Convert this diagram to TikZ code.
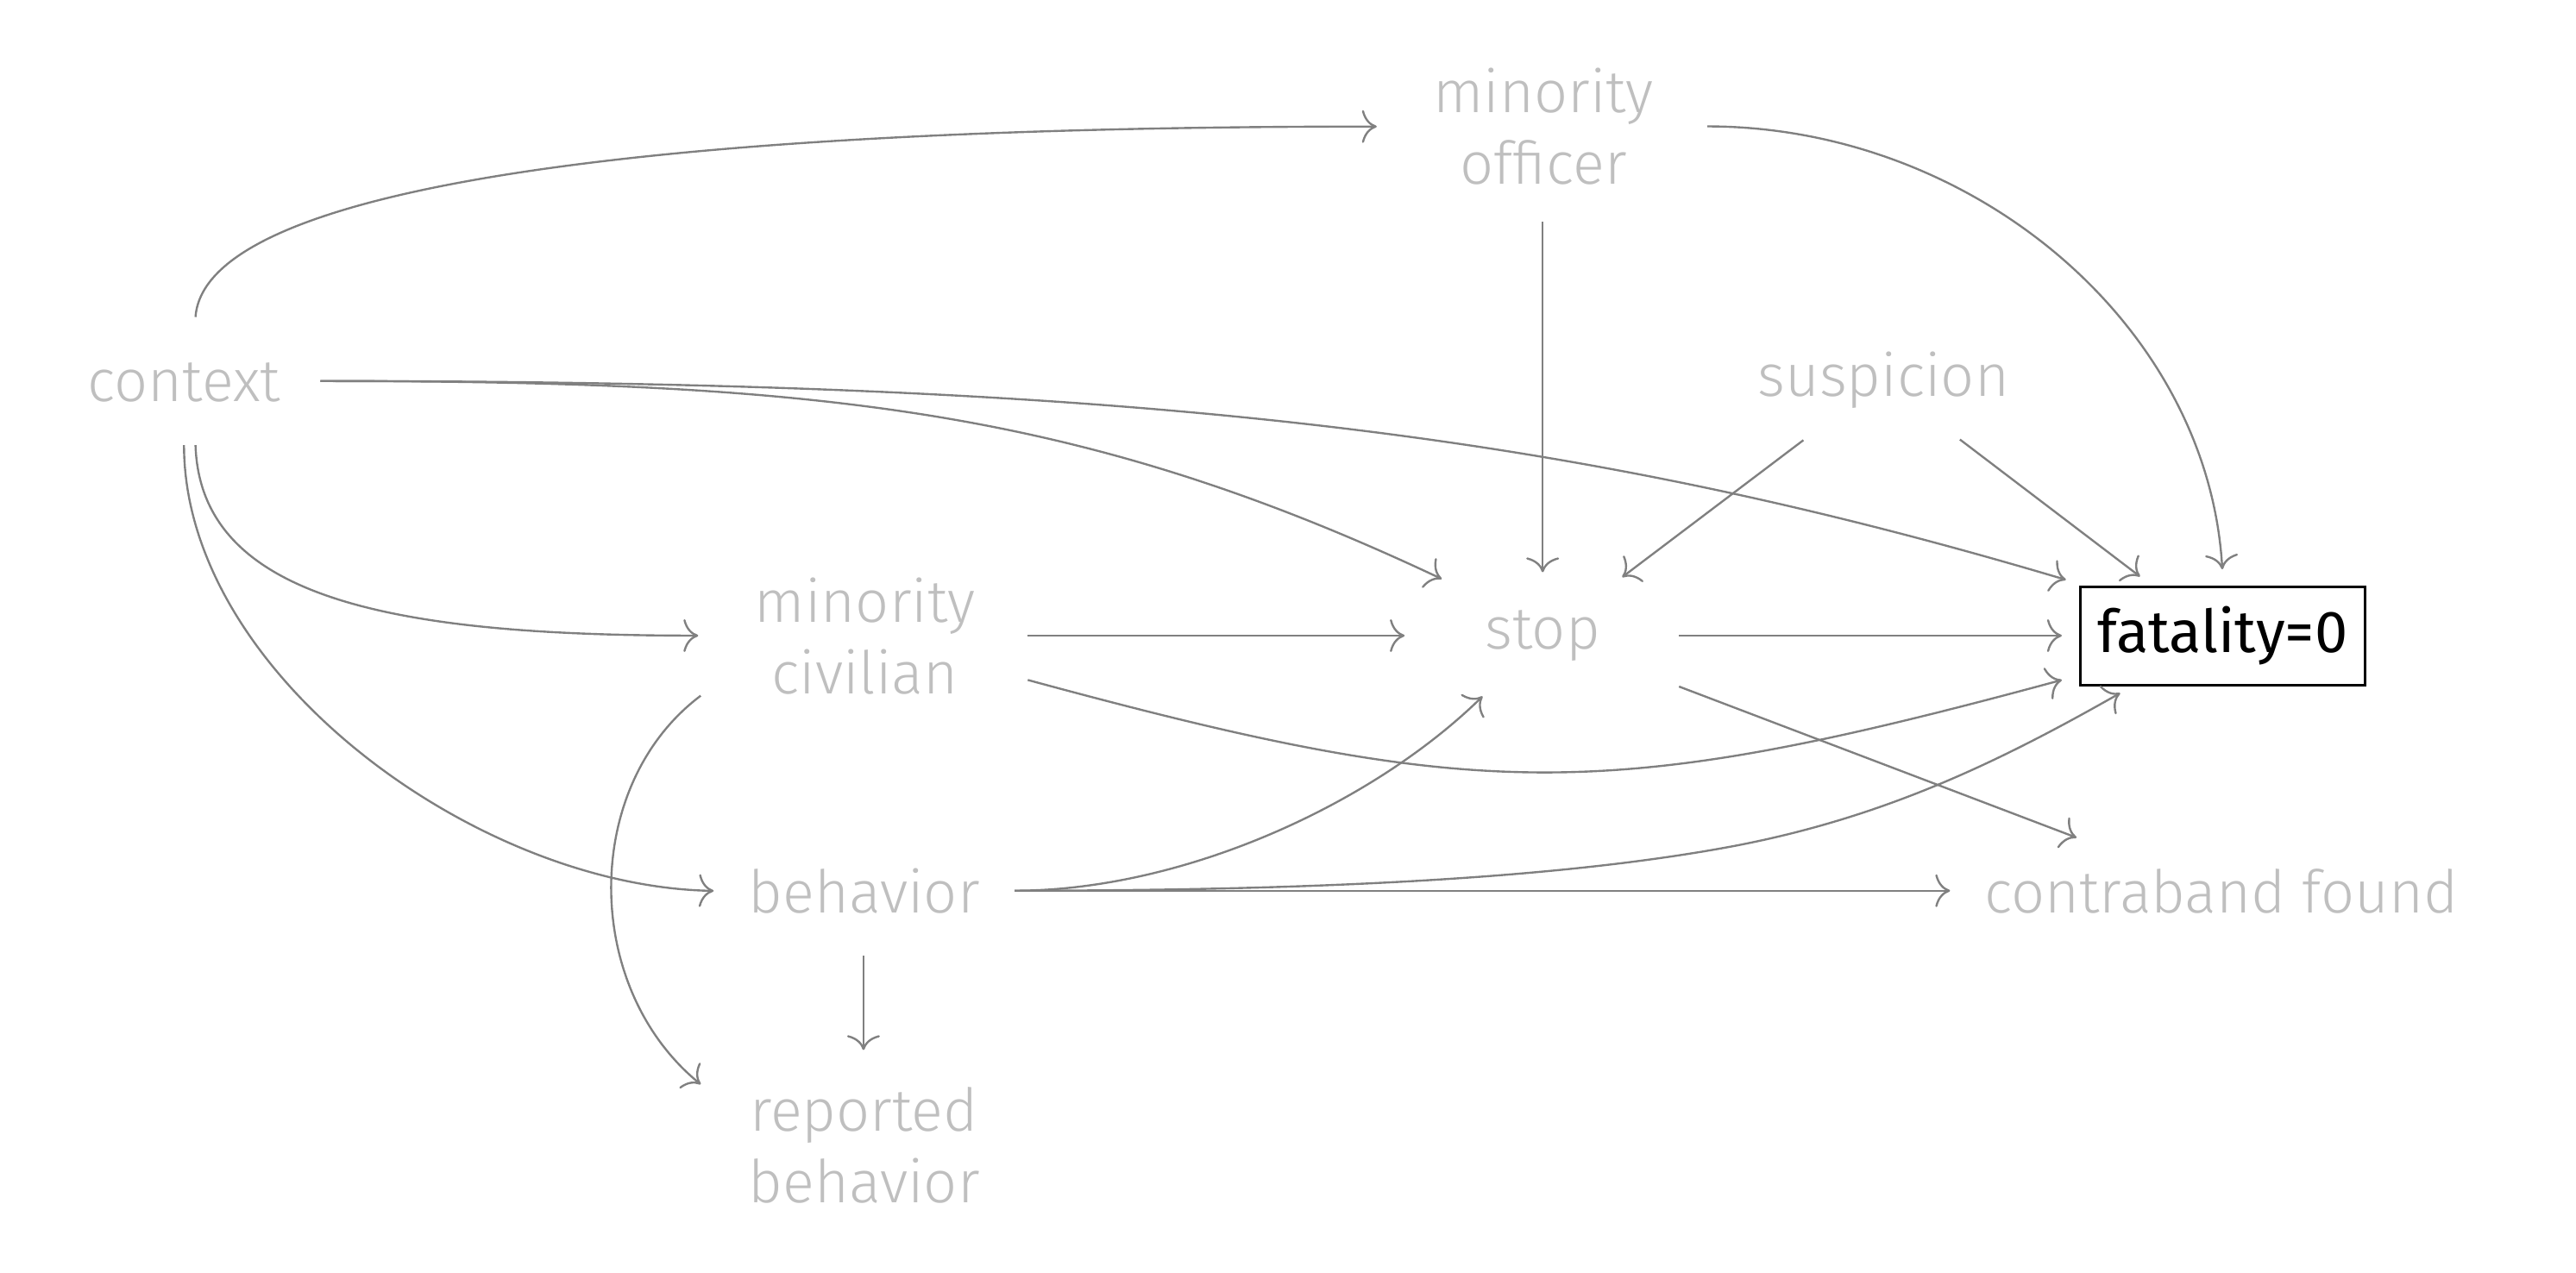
\documentclass[tikz,border=0pt]{standalone}
\usepackage{fontspec}
\IfFontExistsTF{Fira Sans Light}{\setmainfont{Fira Sans Light}}{\setmainfont{Fira Sans}}
\newfontfamily\regfont{Fira Sans}
\usetikzlibrary{arrows.meta,calc}
\definecolor{labelgray}{HTML}{BFBFBF}
\definecolor{edgegray}{HTML}{808080}
\begin{document}
\begin{tikzpicture}[x=1pt,y=-1pt,
  var/.style={text=labelgray, inner sep=0pt, align=center, font=\fontsize{36}{43.5}\selectfont},
  outcome/.style={draw=black, line width=1.6pt, text=black, minimum width=173pt, minimum height=60pt, inner sep=0pt, font=\regfont\fontsize{36}{43.5}\selectfont},
  edge/.style={draw=edgegray, line width=1.25pt, -{To[length=9pt,width=20pt]}}]
\useasboundingbox (0,0) rectangle (1568,775);
% nodes
\node[var] (ctx) at (112,235.5) {\strut context};
\node[var] (off) at (939.5,81.55) {\strut minority\\\strut officer};
\node[var] (sus) at (1146.5,232.7) {\strut suspicion};
\node[var] (civ) at (526.5,392.15) {\strut minority\\\strut civilian};
\node[var] (stop) at (939,386.6) {\strut stop};
\node[outcome] (fat) at (1352.9,387.2) {fatality=0};
\node[var] (beh) at (526,547) {\strut behavior};
\node[var] (rep) at (526,701.8) {\strut reported\\\strut behavior};
\node[var] (con) at (1352,547.3) {\strut contraband found};
% edges from context
\draw[edge] ($(ctx)+(7,-42.5)$) .. controls (125,110) and (420,77) .. ($(off)+(-101.5,-4.5)$);
\draw[edge] ($(ctx)+(83,-3.5)$) .. controls (500,232) and (658,249) .. ($(stop)+(-61.4,-34.1)$);
\draw[edge] ($(ctx)+(83,-3.5)$) .. controls (700,232) and (958,264) .. ($(fat)+(-95.4,-34.2)$);
\draw[edge] ($(ctx)+(7,35.5)$) .. controls (122,365) and (240,387) .. ($(civ)+(-101.5,-5.15)$);
\draw[edge] ($(ctx)+(0,35.5)$) .. controls (112,410) and (290,540) .. ($(beh)+(-91.6,-4.6)$);
% edges from minority officer
\draw[edge] ($(off)+(-0.5,53.5)$) -- ($(stop)+(0,-38.2)$);
\draw[edge] ($(off)+(99.8,-4.6)$) .. controls (1200,77) and (1344,197) .. ($(fat)+(-0.2,-40.6)$);
% edges from suspicion
\draw[edge] ($(sus)+(-48.8,35.3)$) -- ($(stop)+(48.4,-35.2)$);
\draw[edge] ($(sus)+(46.5,34.9)$) -- ($(fat)+(-50.3,-36.2)$);
% edges from minority civilian
\draw[edge] ($(civ)+(99.1,-5.15)$) -- ($(stop)+(-84,0.4)$);
\draw[edge] ($(civ)+(99.1,21.85)$) .. controls (902,489) and (978,489) .. ($(fat)+(-97.9,26.8)$);
\draw[edge] ($(civ)+(-100,31.45)$) .. controls (354,478) and (354,601) .. ($(rep)+(-99.5,-41.6)$);
% edges from stop
\draw[edge] ($(stop)+(83,0.4)$) -- ($(fat)+(-97.9,-0.2)$);
\draw[edge] ($(stop)+(83,31.4)$) -- ($(con)+(-88,-37.3)$);
% edges from behavior
\draw[edge] ($(beh)+(91.6,-4.7)$) .. controls (720,542.3) and (835,490) .. ($(stop)+(-36.6,37.4)$);
\draw[edge] ($(beh)+(91.6,-4.7)$) -- ($(con)+(-165,-5)$);
\draw[edge] ($(beh)+(91.6,-4.7)$) .. controls (800,542.3) and (950,535) .. (1056,515) .. controls (1150,497) and (1220,462) .. ($(fat)+(-62.4,34.8)$);
\draw[edge] ($(beh)+(-0.4,34.8)$) -- ($(rep)+(-0.4,-62.5)$);
\end{tikzpicture}
\end{document}
